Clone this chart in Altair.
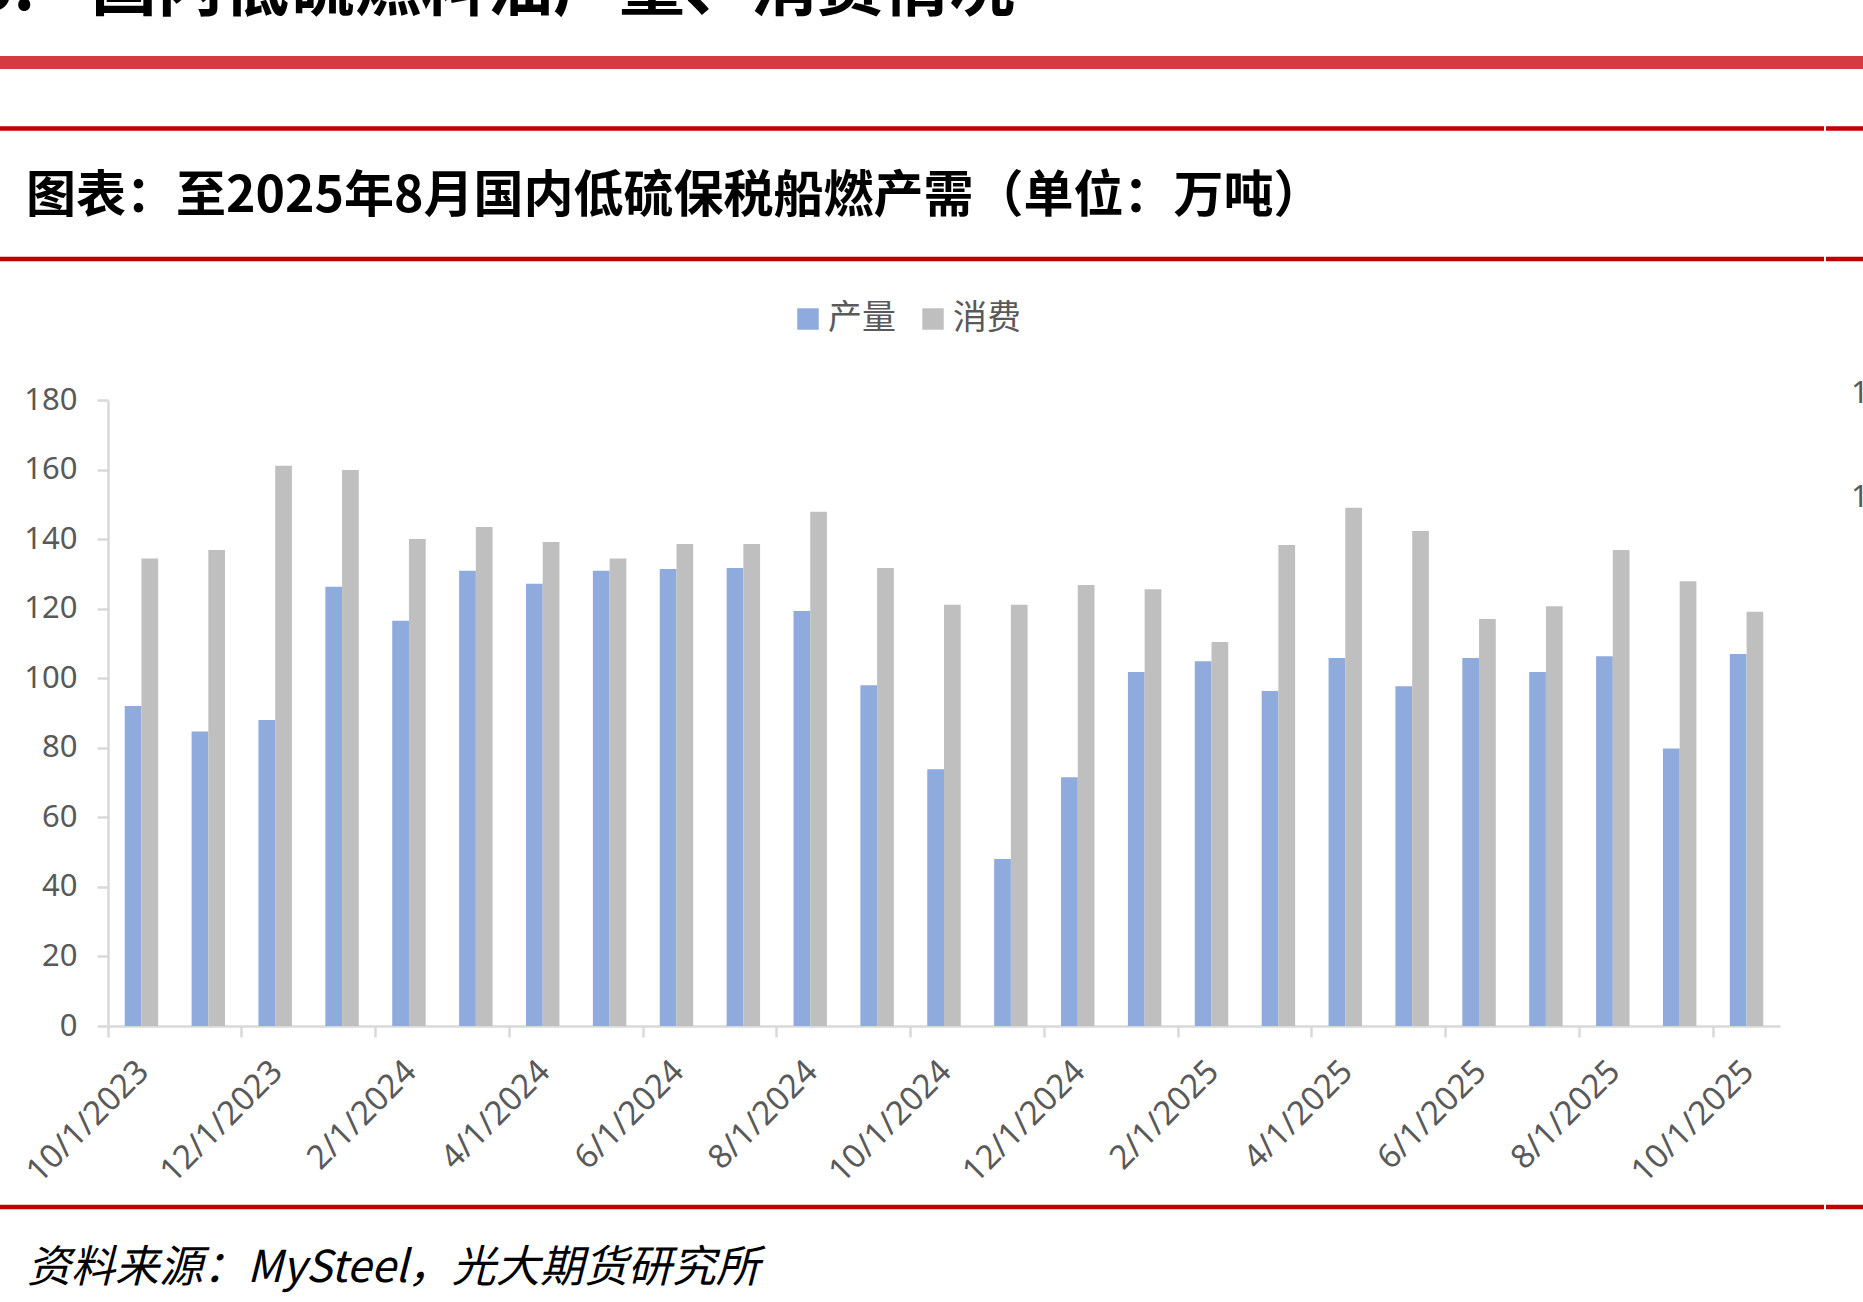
import altair as alt
import pandas as pd

# ---------------- data ----------------
months = ["10/1/2023", "11/1/2023", "12/1/2023", "1/1/2024", "2/1/2024", "3/1/2024",
          "4/1/2024", "5/1/2024", "6/1/2024", "7/1/2024", "8/1/2024", "9/1/2024",
          "10/1/2024", "11/1/2024", "12/1/2024", "1/1/2025", "2/1/2025", "3/1/2025",
          "4/1/2025", "5/1/2025", "6/1/2025", "7/1/2025", "8/1/2025", "9/1/2025",
          "10/1/2025"]
production = [92.0, 84.7, 88.0, 126.3, 116.5, 130.9, 127.2, 130.9, 131.4, 131.7, 119.3, 98.0,
              73.8, 48.0, 71.5, 101.8, 104.9, 96.3, 105.8, 97.7, 105.8, 101.8, 106.3, 79.8,
              107.0]
consumption = [134.4, 136.9, 161.1, 159.9, 140.0, 143.5, 139.2, 134.4, 138.6, 138.6, 147.9, 131.7,
               121.1, 121.1, 126.8, 125.6, 110.4, 138.3, 149.0, 142.3, 117.0, 120.7, 136.9, 127.9,
               119.1]
series_names = ["产量", "消费"]
series_colors = ["#8faadc", "#bfbfbf"]
tick_labels = ["10/1/2023", "12/1/2023", "2/1/2024", "4/1/2024", "6/1/2024", "8/1/2024",
               "10/1/2024", "12/1/2024", "2/1/2025", "4/1/2025", "6/1/2025", "8/1/2025",
               "10/1/2025"]
y_ticks = [0, 20, 40, 60, 80, 100, 120, 140, 160, 180]

chart_title = "图表：至2025年8月国内低硫保税船燃产需（单位：万吨）"
section_title = "国内低硫燃料油产量、消费情况"
source_text = "资料来源：MySteel，光大期货研究所"

rows = []
for m, p, c in zip(months, production, consumption):
    rows.append({"month": m, "series": series_names[0], "value": p})
    rows.append({"month": m, "series": series_names[1], "value": c})
df = pd.DataFrame(rows)

W, H = 1672, 626
PL, PT, PR, PB = 108, 400, 83, 276
FULLW = PL + W + PR

LABEL_FONT = "Noto Sans"
CJK_FONT = "Noto Sans CJK SC"
GRAY_TXT = "#595959"
AXIS_COL = "#d9d9d9"

bars = alt.Chart(df).mark_bar().encode(
    x=alt.X("month:N", sort=months,
            scale=alt.Scale(paddingInner=0, paddingOuter=0),
            axis=alt.Axis(values=tick_labels, bandPosition=0, labelAngle=-45,
                          labelAlign="right", labelBaseline="middle",
                          labelOffset=2, labelPadding=29, tickSize=11,
                          tickColor=AXIS_COL, tickWidth=2.5, domainColor=AXIS_COL,
                          domainWidth=2.5, labelFontSize=33, labelColor=GRAY_TXT,
                          labelFont=LABEL_FONT, title=None, labelOverlap=False,
                          grid=False)),
    xOffset=alt.XOffset("series:N", sort=series_names,
                        scale=alt.Scale(paddingOuter=1, paddingInner=0)),
    y=alt.Y("value:Q", scale=alt.Scale(domain=[0, 180], nice=False),
            axis=alt.Axis(values=y_ticks, tickSize=11, tickColor=AXIS_COL, tickWidth=2.5,
                          domainColor=AXIS_COL, domainWidth=2.5, labelPadding=20,
                          labelFontSize=31, labelColor=GRAY_TXT, labelFont=LABEL_FONT,
                          title=None, grid=False)),
    color=alt.Color("series:N", sort=series_names,
                    scale=alt.Scale(domain=series_names, range=series_colors),
                    legend=alt.Legend(title=None, orient="none", direction="horizontal",
                                      legendX=683, legendY=-98, symbolType="square",
                                      symbolSize=460, symbolStrokeWidth=0,
                                      labelFontSize=34, labelColor=GRAY_TXT,
                                      labelFont=CJK_FONT, labelOffset=3,
                                      columnPadding=20, padding=0)),
)


def one():
    return pd.DataFrame({"k": [0]})


def rule(x1, x2, y, width, color):
    return alt.Chart(one()).mark_rule(strokeWidth=width, color=color).encode(
        x=alt.value(x1 - PL), x2=alt.value(x2 - PL), y=alt.value(y - PT))


def text(s, x, y, size, weight="normal", style="normal", align="left",
         baseline="middle", color="#000000", font=CJK_FONT):
    d = pd.DataFrame({"t": [s]})
    return alt.Chart(d).mark_text(fontSize=size, fontWeight=weight, fontStyle=style,
                                  align=align, baseline=baseline, color=color,
                                  font=font).encode(
        x=alt.value(x - PL), y=alt.value(y - PT), text="t:N")


decor = [
    text("5.", 35, 10, 66, weight="bold", align="right", baseline="alphabetic"),
    text(section_title, 91, 10, 66, weight="bold", baseline="alphabetic"),
    rule(0, FULLW, 62.5, 13, "#d43a3f"),
    rule(0, 1824, 128.5, 4.5, "#c00000"),
    rule(1826, FULLW, 128.5, 4.5, "#c00000"),
    text(chart_title, 26, 197, 50, weight="bold"),
    rule(0, 1824, 259, 4.5, "#c00000"),
    rule(1826, FULLW, 259, 4.5, "#c00000"),
    rule(0, 1824, 1207, 4.5, "#c00000"),
    rule(1826, FULLW, 1207, 4.5, "#c00000"),
    text(source_text, 27, 1269, 44, style="italic"),
    text("1", 1851, 394, 31, color=GRAY_TXT, font=LABEL_FONT),
    text("1", 1851, 498, 31, color=GRAY_TXT, font=LABEL_FONT),
]

chart = alt.layer(bars, *decor).properties(
    width=W, height=H,
    autosize=alt.AutoSizeParams(type="none"),
    padding={"left": PL, "top": PT, "right": PR, "bottom": PB},
    background="#ffffff",
).configure_view(stroke=None)

chart.save("out.html", embed_options={"renderer": "svg", "actions": False})
